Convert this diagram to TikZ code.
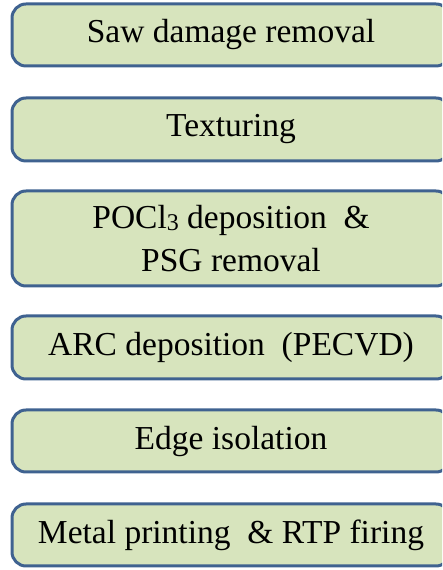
\documentclass[tikz,border=0pt]{standalone}
\usepackage{fontspec}
\setmainfont{Liberation Serif}
\definecolor{boxfill}{HTML}{D7E4BD}
\definecolor{boxedge}{HTML}{3F6290}
\begin{document}
\begin{tikzpicture}[x=1pt,y=1pt,
  stepbox/.style={draw=boxedge, line width=3pt, fill=boxfill, rounded corners=14pt,
    minimum width=438pt, align=center, inner sep=0pt,
    font=\fontsize{33.5}{43}\selectfont}]
\useasboundingbox (0,0) rectangle (442,570);
\clip (0,0) rectangle (442,570);
\node[stepbox, minimum height=62pt] (s1) at (231,535) {Saw damage removal};
\node[stepbox, minimum height=63pt] (s2) at (231,440.5) {Texturing};
\node[stepbox, minimum height=95pt] (s3) at (231,331.5) {POCl\raisebox{-2pt}{\fontsize{24}{24}\selectfont 3} deposition \ \&\\PSG removal};
\node[stepbox, minimum height=63pt] (s4) at (231,222.5) {ARC deposition \ (PECVD)};
\node[stepbox, minimum height=62pt] (s5) at (231,129) {Edge isolation};
\node[stepbox, minimum height=62pt] (s6) at (231,35) {Metal printing \ \& RTP firing};
\end{tikzpicture}
\end{document}
